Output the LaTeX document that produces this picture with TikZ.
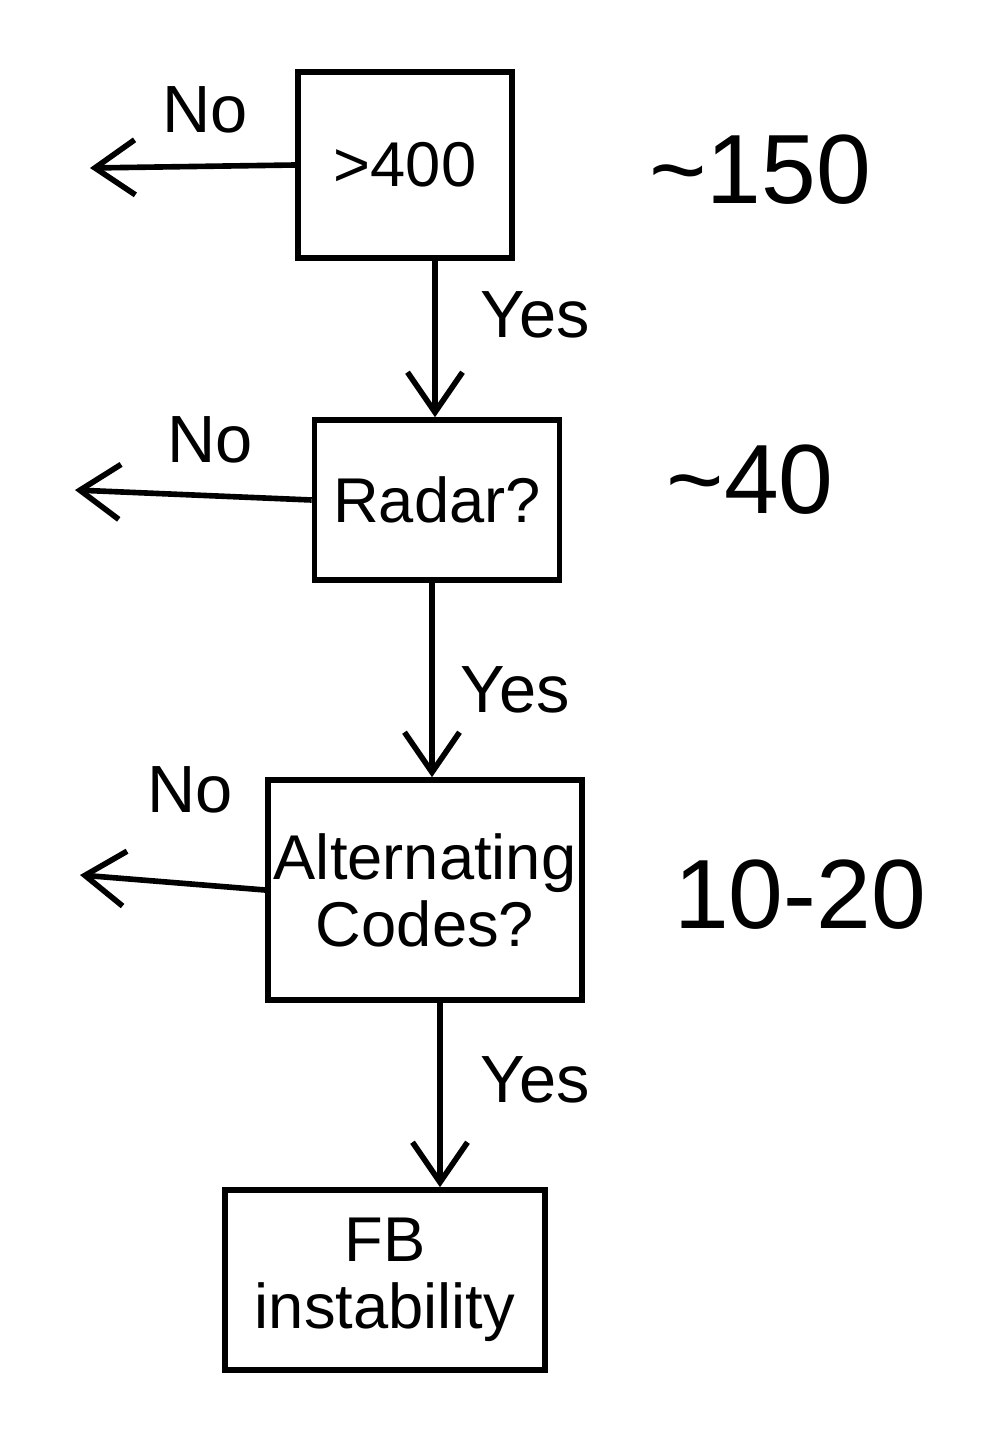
\documentclass[tikz,border=0pt]{standalone}
\usepackage{fontspec}
\setmainfont{Liberation Sans}
\usetikzlibrary{arrows.meta,positioning}

\begin{document}
\begin{tikzpicture}[
  check/.style={rectangle, draw=black, line width=3.2pt, minimum width=#1,
                align=center, font=\fontsize{36}{38}\selectfont},
  flow/.style={-{Straight Barb[length=0.8cm, width=1.1cm, line width=3.2pt]}, line width=3.2pt},
  lbl/.style={font=\fontsize{38}{40}\selectfont},
  count/.style={font=\fontsize{56}{60}\selectfont}
]
\useasboundingbox (0,0) rectangle (20,-28.72);

% Row 1: Decision boxes
\node[check=4.28cm, minimum height=3.72cm] (size)    at (8.1,-3.3)   {>400};
\node[check=4.9cm,  minimum height=3.2cm]  (radar)   at (8.74,-10.0) {Radar?};
\node[check=6.2cm,  minimum height=4.4cm]  (altcode) at (8.5,-17.8)  {Alternating\\Codes?};
\node[check=6.4cm,  minimum height=3.6cm]  (fbinst)  at (7.7,-25.6)  {FB\\instability};

% Loose ends of the No branches
\coordinate (nosize)  at (1.8,-3.36);
\coordinate (noradar) at (1.5,-9.8);
\coordinate (noalt)   at (1.6,-17.5);

\draw[flow] (size.west)    -- (nosize);
\draw[flow] (radar.west)   -- (noradar);
\draw[flow] (altcode.west) -- (noalt);

\draw[flow] ([xshift=0.6cm]size.south)    -- ([xshift=0.6cm]size.south |- radar.north);
\draw[flow] ([xshift=-0.1cm]radar.south)  -- ([xshift=-0.1cm]radar.south |- altcode.north);
\draw[flow] ([xshift=0.3cm]altcode.south) -- ([xshift=0.3cm]altcode.south |- fbinst.north);

% Branch labels
\node[lbl] (no1)  at (4.1,-2.2)   {No};
\node[lbl] (no2)  at (4.2,-8.8)   {No};
\node[lbl] (no3)  at (3.8,-15.8)  {No};
\node[lbl] (yes1) at (10.7,-6.3)  {Yes};
\node[lbl] (yes2) at (10.3,-13.8) {Yes};
\node[lbl] (yes3) at (10.7,-21.6) {Yes};

% Counts
\node[count] (c1) at (15.2,-3.4)  {\textasciitilde150};
\node[count] (c2) at (15.0,-9.6)  {\textasciitilde40};
\node[count] (c3) at (16.0,-17.9) {10-20};
\end{tikzpicture}
\end{document}
